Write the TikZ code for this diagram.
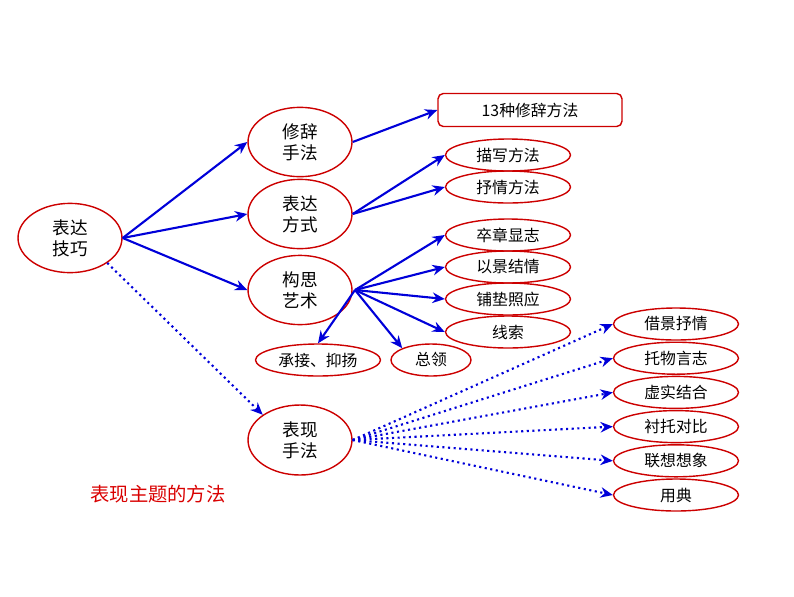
\documentclass[tikz,border=0pt]{standalone}
\usepackage{fontspec}
\setmainfont{Noto Sans CJK SC}
\usetikzlibrary{shapes.geometric,arrows.meta}
\tikzset{
  big/.style={draw=red!80!black, thick, ellipse, minimum width=2.08cm, minimum height=1.3cm, align=center, font=\fontsize{10}{12}\selectfont},
  leaf/.style={draw=red!80!black, thick, ellipse, minimum width=2.5cm, minimum height=0.64cm, inner sep=0pt, font=\fontsize{9}{10}\selectfont},
  link/.style={-{Stealth[length=7pt,width=6pt]}, very thick, blue!85!black},
  dlink/.style={link, dotted}
}
\begin{document}
\begin{tikzpicture}[x=0.02cm, y=-0.02cm]
  \useasboundingbox (0,0) rectangle (794,596);

  % --- main nodes ---
  \node[big] (root) at (70,238) {表达\\技巧};
  \node[big] (xiuci) at (300,142) {修辞\\手法};
  \node[big] (biaoda) at (300,214) {表达\\方式};
  \node[big] (gousi) at (300,290) {构思\\艺术};
  \node[big, minimum height=1.4cm] (biaoxian) at (300,440) {表现\\手法};

  % --- leaves ---
  \node[draw=red!80!black, thick, rounded corners=3pt, minimum width=3.68cm, minimum height=0.66cm, font=\fontsize{9}{10}\selectfont] (fangfa) at (530,110) {13种修辞方法};
  \node[leaf] (miaoxie) at (508,155) {描写方法};
  \node[leaf] (shuqing) at (508,187) {抒情方法};
  \node[leaf] (zuzhang) at (508,235) {卒章显志};
  \node[leaf] (yijing) at (508,267) {以景结情};
  \node[leaf] (pudian) at (508,299) {铺垫照应};
  \node[leaf] (xiansuo) at (508,332) {线索};
  \node[leaf] (chengjie) at (318,360) {承接、抑扬};
  \node[leaf, minimum width=1.6cm] (zongling) at (431,360) {总领};
  \foreach \t [count=\i from 0] in {借景抒情,托物言志,虚实结合,衬托对比,联想想象,用典}
    \node[leaf] (r\i) at (676,324+34.2*\i) {\t};

  \node[text=red!85!black, font=\fontsize{11}{13}\selectfont] (zhuti) at (158,494) {表现主题的方法};

  % --- connectors ---
  \draw[link] (root.east) -- (xiuci.west);
  \draw[link] (root.east) -- (biaoda.west);
  \draw[link] (root.east) -- (gousi.west);
  \draw[dlink] (root.south east) -- (biaoxian.north west);
  \draw[link] (xiuci.east) -- (fangfa.west);
  \draw[link] (biaoda.east) -- (miaoxie.west);
  \draw[link] (biaoda.east) -- (shuqing.west);
  \coordinate (hub) at (355,290);
  \foreach \n in {zuzhang,yijing,pudian,xiansuo}
    \draw[link] (hub) -- (\n.west);
  \draw[link] (hub) -- (chengjie.north);
  \draw[link] (hub) -- (zongling.north west);
  \foreach \i in {0,...,5}
    \draw[dlink] (biaoxian.east) -- (r\i.west);

\end{tikzpicture}
\end{document}
